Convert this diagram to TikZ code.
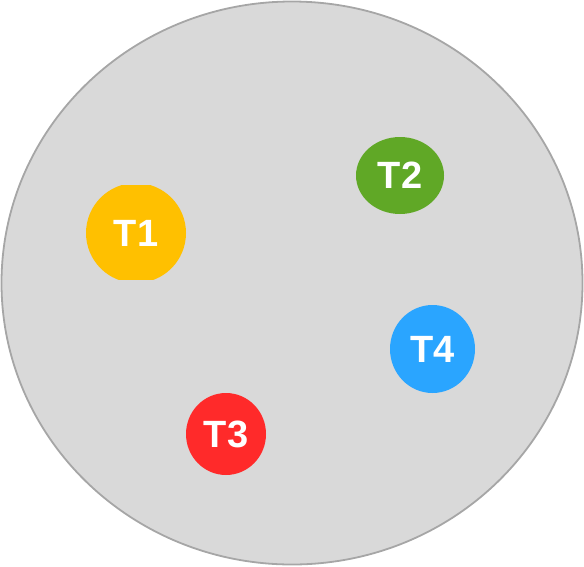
\documentclass[tikz,border=0pt]{standalone}
\usepackage{fontspec}
\setmainfont{Liberation Sans}
\usetikzlibrary{shapes.geometric}
\definecolor{bgray}{HTML}{D9D9D9}
\definecolor{egray}{HTML}{A6A6A6}
\definecolor{tyellow}{HTML}{FFC000}
\definecolor{tgreen}{HTML}{60A826}
\definecolor{tblue}{HTML}{2AA5FF}
\definecolor{tred}{HTML}{FF2A2A}
\begin{document}
\begin{tikzpicture}[x=1pt,y=-1pt,
  tnode/.style={ellipse, inner sep=0pt, text=white, font=\fontsize{38}{38}\selectfont\bfseries}]
\useasboundingbox (0,0) rectangle (584,566);
\node[draw=egray, line width=1.8pt, fill=bgray, ellipse, inner sep=0pt,
  minimum width=581pt, minimum height=563pt] (circ) at (292,283) {};
\node[tnode, minimum width=100pt, minimum height=100pt,
  path picture={\fill[tyellow] ([xshift=-52pt,yshift=48pt]path picture bounding box.center) rectangle ([xshift=52pt,yshift=-47pt]path picture bounding box.center);}] (t1) at (136,233) {T1};
\node[tnode, fill=tgreen, minimum width=88pt, minimum height=77pt] (t2) at (400,175.5) {T2};
\node[tnode, fill=tblue, minimum width=85pt, minimum height=88pt] (t4) at (432.5,349) {T4};
\node[tnode, fill=tred, minimum width=80pt, minimum height=82pt] (t3) at (226,434) {T3};
\end{tikzpicture}
\end{document}
